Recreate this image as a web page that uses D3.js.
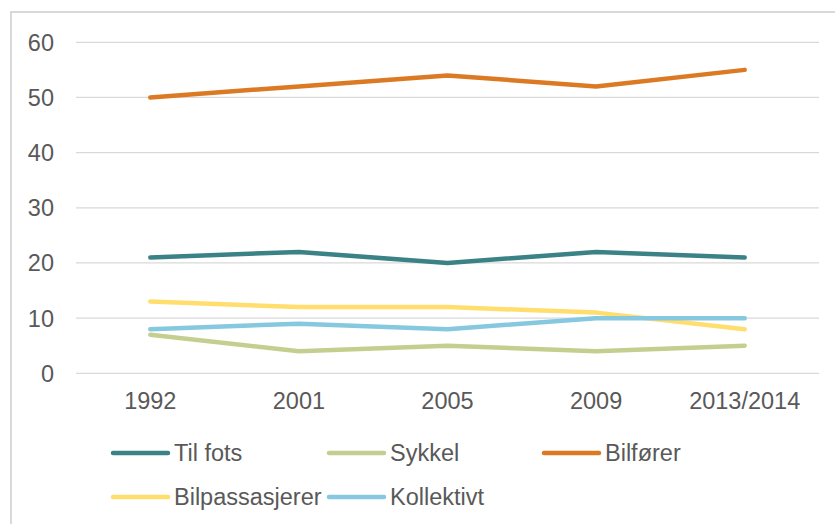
<!DOCTYPE html>
<html>
<head>
<meta charset="utf-8">
<script src="https://cdn.jsdelivr.net/npm/d3@7"></script>
<style>
  body { margin: 0; background: #fff; }
  text { font-family: "Liberation Sans", Arial, sans-serif; fill: #595959; }
</style>
</head>
<body>
<div id="chart"></div>
<script>
//
// Data
//
var years = ["1992", "2001", "2005", "2009", "2013/2014"];
var seriesNames = ["Til fots", "Sykkel", "Bilfører", "Bilpassasjerer", "Kollektivt"];
var tilFots        = [21, 22, 20, 22, 21];
var sykkel         = [7, 4, 5, 4, 5];
var bilforer       = [50, 52, 54, 52, 55];
var bilpassasjerer = [13, 12, 12, 11, 8];
var kollektivt     = [8, 9, 8, 10, 10];
var yTicks = [0, 10, 20, 30, 40, 50, 60];

var colors = ["#3b8286", "#c4cf8f", "#dc7a24", "#ffde6e", "#86c8df"];

var series = [tilFots, sykkel, bilforer, bilpassasjerer, kollektivt].map(function(v, i) {
    return { name: seriesNames[i], values: v, color: colors[i] };
});

//
// Layout
//
var W = 835, H = 524;
var plot = { left: 76, right: 819, top: 42.3, bottom: 373.3 };
var fontSize = "23.5px";

var svg = d3.select("#chart").append("svg")
    .attr("width", W)
    .attr("height", H);

// chart frame
svg.append("rect")
    .attr("x", 11).attr("y", 12)
    .attr("width", 900).attr("height", 600)
    .attr("fill", "none")
    .attr("stroke", "#d9d9d9")
    .attr("stroke-width", 2);

var x = d3.scalePoint().domain(years).range([plot.left, plot.right]).padding(0.5);
var y = d3.scaleLinear().domain([0, 60]).range([plot.bottom, plot.top]);

// gridlines
svg.append("g").selectAll("line")
    .data(yTicks)
    .enter().append("line")
    .attr("x1", plot.left).attr("x2", plot.right)
    .attr("y1", function(d) { return y(d); })
    .attr("y2", function(d) { return y(d); })
    .attr("stroke", "#d9d9d9")
    .attr("stroke-width", 1.3);

// y labels
svg.append("g").selectAll("text")
    .data(yTicks)
    .enter().append("text")
    .attr("x", 54)
    .attr("y", function(d) { return y(d); })
    .attr("dy", "0.36em")
    .attr("text-anchor", "end")
    .style("font-size", fontSize)
    .text(function(d) { return d; });

// x labels
svg.append("g").selectAll("text")
    .data(years)
    .enter().append("text")
    .attr("x", function(d) { return x(d); })
    .attr("y", 409)
    .attr("text-anchor", "middle")
    .style("font-size", fontSize)
    .text(function(d) { return d; });

// lines
var line = d3.line()
    .x(function(d, i) { return x(years[i]); })
    .y(function(d) { return y(d); });

svg.append("g").selectAll("path")
    .data(series)
    .enter().append("path")
    .attr("d", function(d) { return line(d.values); })
    .attr("fill", "none")
    .attr("stroke", function(d) { return d.color; })
    .attr("stroke-width", 4.5)
    .attr("stroke-linejoin", "round")
    .attr("stroke-linecap", "round");

// legend
var legendPos = [[113, 453], [329, 453], [544, 453], [113, 497], [329, 497]];

var leg = svg.append("g").selectAll("g")
    .data(series)
    .enter().append("g")
    .attr("transform", function(d, i) {
        return "translate(" + legendPos[i][0] + "," + legendPos[i][1] + ")";
    });

leg.append("line")
    .attr("x1", 0).attr("x2", 55)
    .attr("y1", 0).attr("y2", 0)
    .attr("stroke", function(d) { return d.color; })
    .attr("stroke-width", 4.5)
    .attr("stroke-linecap", "round");

leg.append("text")
    .attr("x", 61)
    .attr("y", 0)
    .attr("dy", "0.36em")
    .style("font-size", fontSize)
    .text(function(d) { return d.name; });
</script>
</body>
</html>
